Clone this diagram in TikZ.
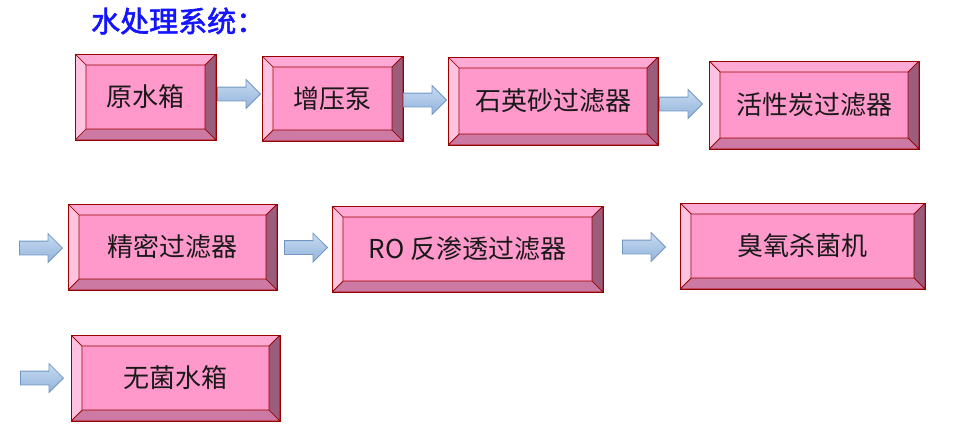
\documentclass[tikz,border=0pt]{standalone}
\usepackage{fontspec}
\newfontfamily\cjk{Noto Sans CJK SC}
\newfontfamily\cjkb[FakeBold=2]{Noto Sans CJK SC}
\usetikzlibrary{shapes.arrows}
\definecolor{face}{HTML}{FF99CC}
\definecolor{bevtop}{HTML}{FFAAD5}
\definecolor{bevleft}{HTML}{FFC2E0}
\definecolor{bevbot}{HTML}{CC7AA3}
\definecolor{bevright}{HTML}{9C5C7C}
\definecolor{edge}{HTML}{990000}
\definecolor{titleblue}{HTML}{1414FF}
\definecolor{arrtop}{HTML}{C8DBF1}
\definecolor{arrbot}{HTML}{92B3DB}
\definecolor{arredge}{HTML}{7096C4}
\def\bv{11pt}
\tikzset{
  bev/.style={draw=edge, line width=0.9pt, fill=face, inner sep=0pt,
    text=black!90, font=\cjk\fontsize{26}{26}\selectfont,
    path picture={
      \coordinate (pnw) at (path picture bounding box.north west);
      \coordinate (pne) at (path picture bounding box.north east);
      \coordinate (psw) at (path picture bounding box.south west);
      \coordinate (pse) at (path picture bounding box.south east);
      \filldraw[fill=bevtop, draw=edge, line width=0.7pt] (pnw) -- (pne) -- ([xshift=-\bv,yshift=-\bv]pne) -- ([xshift=\bv,yshift=-\bv]pnw) -- cycle;
      \filldraw[fill=bevbot, draw=edge, line width=0.7pt] (psw) -- (pse) -- ([xshift=-\bv,yshift=\bv]pse) -- ([xshift=\bv,yshift=\bv]psw) -- cycle;
      \filldraw[fill=bevleft, draw=edge, line width=0.7pt] (pnw) -- (psw) -- ([xshift=\bv,yshift=\bv]psw) -- ([xshift=\bv,yshift=-\bv]pnw) -- cycle;
      \filldraw[fill=bevright, draw=edge, line width=0.7pt] (pne) -- (pse) -- ([xshift=-\bv,yshift=\bv]pse) -- ([xshift=-\bv,yshift=-\bv]pne) -- cycle;
    }},
  flow/.style={single arrow, draw=arredge, line width=0.8pt, top color=arrtop, bottom color=arrbot,
    minimum width=28pt, single arrow head extend=7.5pt, minimum height=43pt, inner xsep=0pt, inner ysep=6.5pt,
    single arrow head indent=0pt, anchor=tip}
}
\begin{document}
\begin{tikzpicture}[x=1pt,y=-1pt]
\useasboundingbox (0,0) rectangle (971,442);
\node[anchor=west, font=\cjkb\fontsize{29}{29}\selectfont, text=titleblue, inner sep=0pt] (title) at (91,21) {水处理系统：};
% row 1
\node[bev, minimum width=141pt, minimum height=86pt] (b1) at (145.5,97) {原水箱};
\node[bev, minimum width=141pt, minimum height=85pt] (b2) at (332.5,98.5) {增压泵};
\node[bev, minimum width=210pt, minimum height=88pt] (b3) at (553,101) {石英砂过滤器};
\node[bev, minimum width=210pt, minimum height=88pt] (b4) at (814,105) {活性炭过滤器};
% row 2
\node[bev, minimum width=209pt, minimum height=86pt] (b5) at (172.5,247) {精密过滤器};
\node[bev, minimum width=271pt, minimum height=86pt] (b6) at (467.5,249) {RO 反渗透过滤器};
\node[bev, minimum width=245pt, minimum height=86pt] (b7) at (802.5,246) {臭氧杀菌机};
% row 3
\node[bev, minimum width=209pt, minimum height=86pt] (b8) at (175.5,378) {无菌水箱};
% arrows
\node[flow] (a1) at (261,94) {};
\node[flow] (a2) at (447,100) {};
\node[flow] (a3) at (703,104) {};
\node[flow] (a4) at (63,248) {};
\node[flow] (a5) at (328,247.5) {};
\node[flow] (a6) at (666,247) {};
\node[flow] (a7) at (64,378) {};
\end{tikzpicture}
\end{document}
